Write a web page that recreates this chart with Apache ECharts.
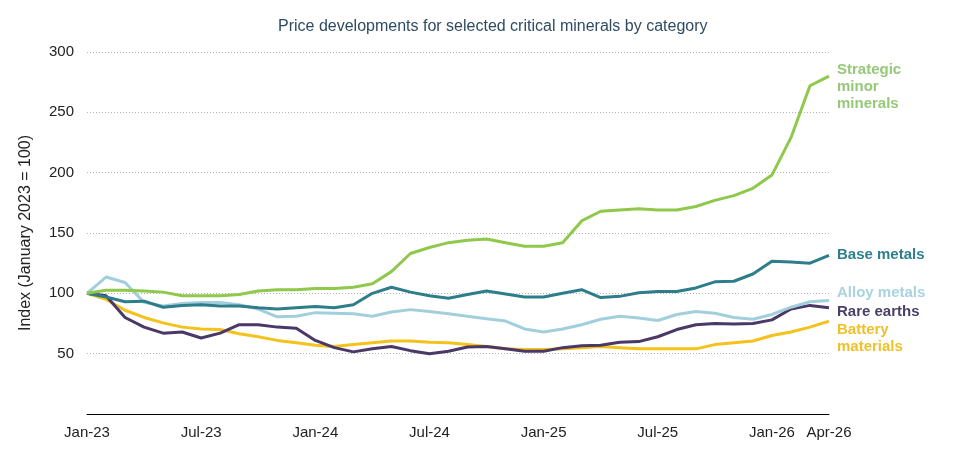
<!DOCTYPE html>
<html>
<head>
<meta charset="utf-8">
<script src="https://cdn.jsdelivr.net/npm/echarts@6/dist/echarts.min.js"></script>
<style>
  html, body { margin: 0; padding: 0; background: #fff; }
  #mychart { width: 957px; height: 451px; }
</style>
</head>
<body>
<div id="mychart"></div>
<script>
// monthly index values, Jan-23 .. Apr-26 (January 2023 = 100)
const monthNames = ["Jan", "Feb", "Mar", "Apr", "May", "Jun", "Jul", "Aug", "Sep", "Oct", "Nov", "Dec"];
const months = [];
for (let y = 23; y <= 26; y++) {
  for (let m = 0; m < 12; m++) {
    if (y === 26 && m > 3) break;
    months.push(monthNames[m] + "-" + y);
  }
}

const strategicMinor = [100, 102.5, 102.5, 102, 101, 98, 98, 98, 99, 102, 103, 103, 104, 104, 105, 108, 118, 133, 138, 142,
  144, 145, 142, 139, 139, 142, 160, 168, 169, 170, 169, 169, 172, 177, 181, 187, 198, 229, 272, 280];
const baseMetals = [100, 97, 93, 93.5, 88.5, 90, 90.5, 89.5, 89.5, 88, 87, 88, 89, 88, 90.5, 100, 105, 101, 98, 96,
  99, 102, 99.5, 97, 97, 100, 103, 96.5, 97.5, 100.5, 101.5, 101.5, 104.5, 109.5, 110, 116, 126.5, 126, 125, 131.5];
const alloyMetals = [100, 113.5, 109, 92.5, 89.5, 91.5, 92.5, 92.5, 90.5, 87, 80.5, 81, 84, 83.5, 83, 81, 84.5, 86.5, 85, 83,
  81, 79, 77, 70.5, 68, 70.5, 74, 78.5, 81, 79.5, 77.5, 82.5, 85, 83.5, 80, 78.5, 82.5, 88.5, 93, 94];
const rareEarths = [100, 98, 80, 72, 67, 68, 63, 67, 74, 74, 72, 71, 61, 55, 51.5, 54, 56, 52.5, 50, 52,
  55.5, 56, 54, 52, 52, 55, 56.5, 57, 59.5, 60, 64, 70, 74, 75, 74.5, 75, 78, 87, 90, 88];
const batteryMaterials = [100, 95, 86, 80, 75.5, 72, 70.5, 70, 66.5, 64, 61, 59, 57, 56, 57.5, 59, 60.5, 60.5, 59.5, 59,
  57.5, 56, 54, 53.5, 53.5, 54, 55, 56, 55, 54, 54, 54, 54, 57.5, 59, 60.5, 65, 68, 72, 77];

const yTicks = [0, 50, 100, 150, 200, 250, 300];

const font = "'Liberation Sans', Arial, sans-serif";

function makeSeries(name, label, data, color, labelColor, dy) {
  return {
    name: name,
    type: "line",
    data: data,
    symbol: "none",
    smooth: false,
    lineStyle: { color: color, width: 3 },
    itemStyle: { color: color },
    endLabel: {
      show: true,
      formatter: label,
      color: labelColor,
      fontFamily: font,
      fontWeight: "bold",
      fontSize: 15,
      lineHeight: 17,
      distance: 8,
      offset: [0, dy]
    },
    z: 2
  };
}

const chart = echarts.init(document.getElementById("mychart"));
const option = {
  animation: false,
  title: {
    text: "Price developments for selected critical minerals by category",
    left: 273,
    top: 14,
    textStyle: { fontFamily: font, fontSize: 16, fontWeight: "normal", color: "#2f4b62" }
  },
  grid: { left: 87, right: 128, top: 52, bottom: 37 },
  xAxis: {
    type: "category",
    data: months,
    boundaryGap: false,
    axisLine: { lineStyle: { color: "#000", width: 1 } },
    axisTick: { show: false },
    axisLabel: {
      interval: (i) => i % 6 === 0 || i === months.length - 1,
      color: "#222",
      fontFamily: font,
      fontSize: 15,
      margin: 11
    },
    splitLine: { show: false }
  },
  yAxis: {
    type: "value",
    min: yTicks[0],
    max: yTicks[yTicks.length - 1],
    interval: 50,
    name: "Index (January 2023 = 100)",
    nameLocation: "middle",
    nameGap: 53,
    nameTextStyle: { fontFamily: font, fontSize: 16, color: "#222" },
    axisLine: { show: false },
    axisTick: { show: false },
    axisLabel: {
      color: "#222",
      fontFamily: font,
      fontSize: 15,
      margin: 13,
      formatter: (v) => (v === 0 ? "" : String(v))
    },
    splitLine: { lineStyle: { color: "#b5b5b5", type: [1, 2], width: 1 } }
  },
  series: [
    makeSeries("Battery materials", "Battery\nmaterials", batteryMaterials, "#f4c21b", "#f0c02a", 17),
    makeSeries("Rare earths", "Rare earths", rareEarths, "#4a3868", "#4a3f66", 4),
    makeSeries("Alloy metals", "Alloy metals", alloyMetals, "#a2cfdc", "#a9d3df", -8),
    makeSeries("Base metals", "Base metals", baseMetals, "#2d7d8a", "#2e7f8c", 0),
    makeSeries("Strategic minor minerals", "Strategic\nminor\nminerals", strategicMinor, "#8fc84a", "#96c878", 11)
  ]
};
chart.setOption(option);
window.addEventListener("resize", () => {
  chart.resize();
});
</script>
</body>
</html>
